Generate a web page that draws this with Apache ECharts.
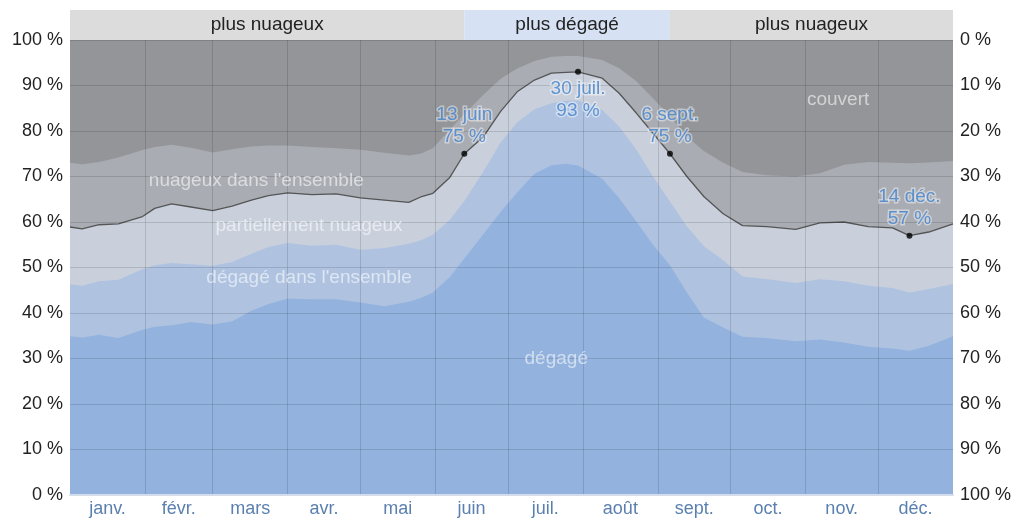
<!DOCTYPE html>
<html>
<head>
<meta charset="utf-8">
<script src="https://cdn.jsdelivr.net/npm/echarts@6/dist/echarts.min.js"></script>
<style>
  html, body { margin: 0; padding: 0; background: #fff; }
  #chart { width: 1017px; height: 518px; }
</style>
</head>
<body>
<div id="chart"></div>
<script>
// Day of year (0 = 1 Jan) for each sample
const days = [0, 5, 12, 20, 30, 35, 42, 50, 59, 67,
  75, 82, 90, 100, 110, 120, 130, 140, 145, 150,
  157, 163, 171, 178, 185, 192, 199, 205, 210, 220,
  227, 234, 241, 248, 255, 262, 270, 278, 288, 300,
  310, 320, 330, 340, 347, 355, 365];

// Cumulative cloud-cover percentages (from the bottom of the chart)
const clearTop = [34.9, 34.6, 35.2, 34.5, 36.3, 37, 37.3, 38, 37.5, 38.2,
  40.5, 42, 43.2, 43, 43, 42.3, 41.5, 42.5, 43.3, 44.5,
  47.9, 52, 57.4, 62.2, 66.6, 70.6, 72.5, 72.8, 72.4, 69.5,
  65.2, 60.2, 55, 50.5, 44.5, 39, 36.8, 34.8, 34.5, 33.8,
  34.2, 33.5, 32.6, 32.2, 31.7, 32.8, 34.9];

const mostlyClearTop = [46.3, 46, 47, 47.3, 49.6, 50.5, 51, 50.7, 50.4, 51.2,
  53, 54.5, 55.4, 54.8, 55, 53.9, 54.3, 55.2, 56, 57.2,
  60.5, 64.6, 71.2, 77.5, 82, 84.8, 86.1, 86.7, 86.7, 84.6,
  81, 76, 70, 64.5, 59, 54.7, 51.6, 48, 47.5, 46.6,
  47.4, 47, 46, 45.5, 44.5, 45.3, 46.4];

const partlyCloudyTop = [58.9, 58.5, 59.4, 59.6, 61.2, 63, 64, 63.3, 62.5, 63.5,
  64.8, 65.8, 66.4, 66, 66.2, 65.3, 64.8, 64.3, 65.5, 66.3,
  69.8, 75, 78.8, 84.3, 88.7, 91.2, 92.7, 92.9, 93, 91.6,
  88.3, 84, 79.5, 75, 70, 65.6, 61.8, 59.2, 59, 58.4,
  59.8, 60, 59, 58.7, 57, 57.8, 59.6];

const mostlyCloudyTop = [73, 72.7, 73.2, 74.2, 75.8, 76.5, 77, 76.3, 75.3, 76,
  76.6, 76.8, 76.8, 76.5, 76.2, 75.9, 75.2, 74.6, 75, 76.2,
  80.3, 83.8, 88, 91.5, 93.8, 95.4, 96.3, 96.5, 96.5, 95.6,
  93.8, 91, 87.2, 83.2, 78.8, 75.6, 73, 71, 70.3, 70,
  70.7, 72.6, 73.2, 73, 72.9, 73.1, 73.4];

// Months
const monthStarts = [0, 31, 59, 90, 120, 151, 181, 212, 243, 273, 304, 334, 365];
const monthNames = ['janv.', 'févr.', 'mars', 'avr.', 'mai', 'juin',
  'juil.', 'août', 'sept.', 'oct.', 'nov.', 'déc.'];

// Seasons shown in the top band
const seasonStarts = [0, 163, 248];
const seasonEnds = [163, 248, 365];
const seasonNames = ['plus nuageux', 'plus dégagé', 'plus nuageux'];

// Highlighted points on the "partly cloudy or clearer" line
const markDays = [163, 210, 248, 347];
const markValues = [75, 93, 75, 57];
const markDates = ['13 juin', '30 juil.', '6 sept.', '14 déc.'];

// Category names written inside their bands
const bandNames = ['couvert', 'nuageux dans l\'ensemble', 'partiellement nuageux',
  'dégagé dans l\'ensemble', 'dégagé'];
const bandLabelAt = [[317.5, 86.8], [77, 69.1], [98.8, 59.2], [98.8, 47.8], [201, 30]];

const FONT = '"Liberation Sans", Arial, sans-serif';
const midMonths = monthNames.map((_, i) => (monthStarts[i] + monthStarts[i + 1]) / 2);
const pairs = arr => days.map((d, i) => [d, arr[i]]);

function areaSeries(name, arr, color, line) {
  return {
    name, type: 'line', xAxisIndex: 0, yAxisIndex: 0,
    data: pairs(arr), showSymbol: false, silent: true, z: 2,
    lineStyle: line ? { color: '#555', width: 1.3 } : { width: 0 },
    areaStyle: { color, opacity: 1 }
  };
}

const chart = echarts.init(document.getElementById('chart'), null, { renderer: 'canvas' });

chart.setOption({
  animation: false,
  textStyle: { fontFamily: FONT },
  grid: [
    { left: 70, right: 64, top: 40, bottom: 22, show: true, backgroundColor: '#939598', borderWidth: 0 },
    { left: 70, right: 64, top: 10, height: 30 }
  ],
  xAxis: [
    {
      type: 'value', gridIndex: 0, min: 0, max: 365, z: 3,
      axisLine: { show: true, lineStyle: { color: '#d3dcea', width: 2 } },
      axisTick: { show: false, customValues: monthStarts.slice(1, -1) },
      splitLine: { show: true, lineStyle: { color: 'rgba(0,0,0,0.13)', width: 1 } },
      axisLabel: {
        customValues: midMonths,
        formatter: v => monthNames[midMonths.indexOf(v)] || '',
        color: '#5b80b0', fontSize: 18, margin: 5
      }
    },
    { type: 'value', gridIndex: 1, min: 0, max: 365, show: false }
  ],
  yAxis: [
    {
      type: 'value', gridIndex: 0, position: 'left', min: 0, max: 100, interval: 10, z: 3,
      axisLine: { show: false }, axisTick: { show: false },
      splitLine: { show: true, lineStyle: { color: 'rgba(0,0,0,0.13)', width: 1 } },
      axisLabel: { formatter: '{value} %', color: '#222', fontSize: 18, margin: 7 }
    },
    {
      type: 'value', gridIndex: 0, position: 'right', min: 0, max: 100, interval: 10, inverse: true,
      axisLine: { show: false }, axisTick: { show: false }, splitLine: { show: false },
      axisLabel: { formatter: '{value} %', color: '#222', fontSize: 18, margin: 7 }
    },
    { type: 'value', gridIndex: 1, min: 0, max: 1, show: false }
  ],
  series: [
    areaSeries('nuageux dans l\'ensemble', mostlyCloudyTop, '#a9acb2', false),
    areaSeries('partiellement nuageux', partlyCloudyTop, '#c9d0dc', true),
    areaSeries('dégagé dans l\'ensemble', mostlyClearTop, '#afc3e1', false),
    areaSeries('dégagé', clearTop, '#93b3de', false),
    {
      type: 'scatter', xAxisIndex: 0, yAxisIndex: 0, z: 5, silent: true,
      symbolSize: 1, itemStyle: { color: 'rgba(0,0,0,0)' },
      data: bandLabelAt.map((p, i) => ({ value: p, name: bandNames[i] })),
      label: {
        show: true, position: 'inside', formatter: p => p.name,
        color: 'rgba(255,255,255,0.72)', fontSize: 19
      }
    },
    {
      type: 'scatter', xAxisIndex: 0, yAxisIndex: 0, z: 6, silent: true,
      symbol: 'circle', symbolSize: 6, itemStyle: { color: '#000' },
      data: markDays.map((d, i) => ({
        value: [d, markValues[i]],
        label: { position: i === 1 ? 'bottom' : 'top' }
      })),
      label: {
        show: true, distance: 3,
        formatter: p => markDates[p.dataIndex] + '\n' + markValues[p.dataIndex] + ' %',
        color: '#3f80cb', fontSize: 19, lineHeight: 22, align: 'center',
        textBorderColor: 'rgba(255,255,255,0.55)', textBorderWidth: 3
      }
    },
    {
      type: 'custom', xAxisIndex: 1, yAxisIndex: 2, silent: true,
      data: seasonStarts.map((s, i) => [s, seasonEnds[i]]),
      renderItem: (params, api) => {
        const a = api.coord([api.value(0), 1]);
        const b = api.coord([api.value(1), 0]);
        const name = seasonNames[params.dataIndex];
        return {
          type: 'group',
          children: [
            { type: 'rect', shape: { x: a[0], y: a[1], width: b[0] - a[0], height: b[1] - a[1] },
              style: { fill: name === 'plus dégagé' ? '#d6e2f3' : '#dcdcdc' } },
            { type: 'text', style: { text: name, x: (a[0] + b[0]) / 2, y: (a[1] + b[1]) / 2,
              align: 'center', verticalAlign: 'middle', fill: '#222', font: '19px ' + FONT } }
          ]
        };
      }
    }
  ]
});
</script>
</body>
</html>
